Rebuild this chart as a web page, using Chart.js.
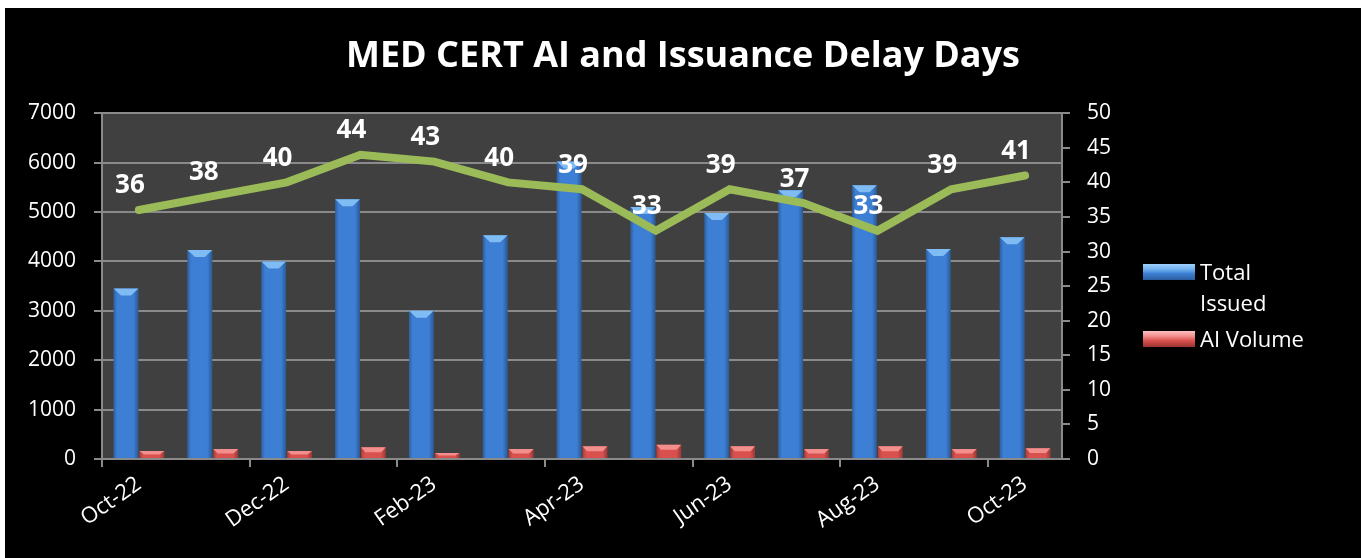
<!DOCTYPE html>
<html>
<head>
<meta charset="utf-8">
<script src="https://cdn.jsdelivr.net/npm/chart.js@4.4.0/dist/chart.umd.min.js"></script>
<style>
  body { margin: 0; background: #fff; width: 1361px; height: 558px; overflow: hidden; font-family: "Open Sans", sans-serif; }
  #wrap { position: absolute; left: 5px; top: 8px; width: 1356px; height: 550px; background: #000; }
  .key { position: absolute; width: 52px; height: 16px; }
  .lbl { position: absolute; color: #fff; font-size: 22px; line-height: 31px; }
</style>
</head>
<body>
<div id="wrap">
  <canvas id="chart"></canvas>
  <div class="key" style="left:1138px;top:256px;background:linear-gradient(#9fd2ff 0%, #6eaeee 35%, #3d7fd4 60%, #2a5c9c 100%);"></div>
  <div class="lbl" style="left:1195px;top:248px;">Total<br>Issued</div>
  <div class="key" style="left:1138px;top:323px;background:linear-gradient(#ffc0c0 0%, #f08a88 35%, #d9514e 60%, #9a3230 100%);"></div>
  <div class="lbl" style="left:1195px;top:315px;">AI Volume</div>
</div>
<script>
const months = ['Oct-22', 'Nov-22', 'Dec-22', 'Jan-23', 'Feb-23', 'Mar-23', 'Apr-23',
  'May-23', 'Jun-23', 'Jul-23', 'Aug-23', 'Sep-23', 'Oct-23'];
const totalIssued = [3450, 4230, 4000, 5260, 3000, 4530, 6020, 5100, 4980, 5440, 5540, 4250, 4490];
const aiVolume = [160, 200, 160, 240, 120, 200, 260, 290, 260, 200, 260, 200, 220];
const delayDays = [36, 38, 40, 44, 43, 40, 39, 33, 39, 37, 33, 39, 41];

const gray = '#8a8a8a';
Chart.defaults.font.family = '"Open Sans", sans-serif';
Chart.defaults.color = '#fff';

// dark plot area
const plotBg = {
  id: 'plotBg',
  beforeDraw(chart) {
    const { ctx, chartArea: a } = chart;
    ctx.save();
    ctx.fillStyle = '#404040';
    ctx.fillRect(a.left, a.top, a.width, a.height);
    ctx.restore();
  }
};

// shading + bevelled top on the bars
const bevel = {
  id: 'bevel',
  afterDatasetDraw(chart, args) {
    const meta = args.meta;
    if (meta.type !== 'bar') return;
    const ds = chart.data.datasets[args.index];
    const ctx = chart.ctx;
    ctx.save();
    meta.data.forEach(el => {
      const { x, y, width, base } = el.getProps(['x', 'y', 'width', 'base'], true);
      const left = x - width / 2, right = x + width / 2, h = base - y;
      const g = ctx.createLinearGradient(left, 0, right, 0);
      g.addColorStop(0, 'rgba(0,0,0,0.25)');
      g.addColorStop(0.15, 'rgba(0,0,0,0)');
      g.addColorStop(0.8, 'rgba(0,0,0,0)');
      g.addColorStop(1, 'rgba(0,0,0,0.3)');
      ctx.fillStyle = g;
      ctx.fillRect(left, y, width, h);
      const d = Math.min(ds.bevelDepth, h / 2);
      const inset = width * ds.bevelInset;
      ctx.fillStyle = ds.topColor;
      ctx.beginPath();
      ctx.moveTo(left, y);
      ctx.lineTo(right, y);
      ctx.lineTo(right - inset, y + d);
      ctx.lineTo(left + inset, y + d);
      ctx.closePath();
      ctx.fill();
    });
    ctx.restore();
  }
};

// value labels above the line
const lineLabels = {
  id: 'lineLabels',
  afterDatasetsDraw(chart) {
    const ctx = chart.ctx;
    const meta = chart.getDatasetMeta(2);
    ctx.save();
    ctx.font = 'bold 26px "Open Sans"';
    ctx.fillStyle = '#fff';
    ctx.textAlign = 'center';
    ctx.textBaseline = 'middle';
    meta.data.forEach((pt, i) => ctx.fillText(delayDays[i], pt.x - 9, pt.y - 24));
    ctx.restore();
  }
};

new Chart(document.getElementById('chart'), {
  data: {
    labels: months,
    datasets: [
      {
        type: 'bar',
        label: 'Total Issued',
        data: totalIssued,
        yAxisID: 'y',
        backgroundColor: '#3d7fd4',
        topColor: '#80bcf4',
        bevelDepth: 7,
        bevelInset: 0.3,
        order: 1,
        barPercentage: 0.96,
        categoryPercentage: 0.7,
      },
      {
        type: 'bar',
        label: 'AI Volume',
        data: aiVolume,
        yAxisID: 'y',
        backgroundColor: '#d9514e',
        topColor: '#f28e8c',
        bevelDepth: 5,
        bevelInset: 0.18,
        order: 2,
        barPercentage: 0.96,
        categoryPercentage: 0.7,
      },
      {
        type: 'line',
        label: 'Delay Days',
        data: delayDays,
        yAxisID: 'y1',
        borderColor: '#9bbb59',
        borderWidth: 8,
        borderCapStyle: 'round',
        borderJoinStyle: 'miter',
        pointRadius: 0,
        tension: 0,
        order: 0,
      },
    ],
  },
  options: {
    responsive: true,
    maintainAspectRatio: false,
    animation: false,
    layout: { padding: 0 },
    plugins: {
      legend: { display: false },
      tooltip: { enabled: false },
      title: {
        display: true,
        text: 'MED CERT AI and Issuance Delay Days',
        color: '#fff',
        font: { size: 36, weight: 'bold' },
        padding: { top: 27, bottom: 35 },
      },
    },
    scales: {
      x: {
        afterFit: s => { s.height = 99; },
        grid: {
          offset: true,
          drawOnChartArea: false,
          tickLength: 8,
          lineWidth: 2,
          color: c => (c.index % 2 === 0 ? gray : 'rgba(0,0,0,0)'),
        },
        border: { color: gray, width: 2 },
        ticks: {
          autoSkip: false,
          minRotation: 35,
          maxRotation: 35,
          padding: 4,
          font: { size: 22 },
          callback: (v, i) => (i % 2 === 0 ? months[i] : ''),
        },
      },
      y: {
        position: 'left',
        min: 0,
        max: 7000,
        afterFit: s => { s.width = 97; },
        grid: { color: gray, lineWidth: 2, tickLength: 8 },
        border: { color: gray, width: 2 },
        ticks: { stepSize: 1000, padding: 18, font: { size: 21 }, callback: v => String(v) },
      },
      y1: {
        position: 'right',
        min: 0,
        max: 50,
        afterFit: s => { s.width = 299; },
        grid: { drawOnChartArea: false, color: gray, lineWidth: 2, tickLength: 8 },
        border: { color: gray, width: 2 },
        ticks: { stepSize: 5, padding: 17, font: { size: 21 } },
      },
    },
  },
  plugins: [plotBg, bevel, lineLabels],
});
</script>
</body>
</html>
